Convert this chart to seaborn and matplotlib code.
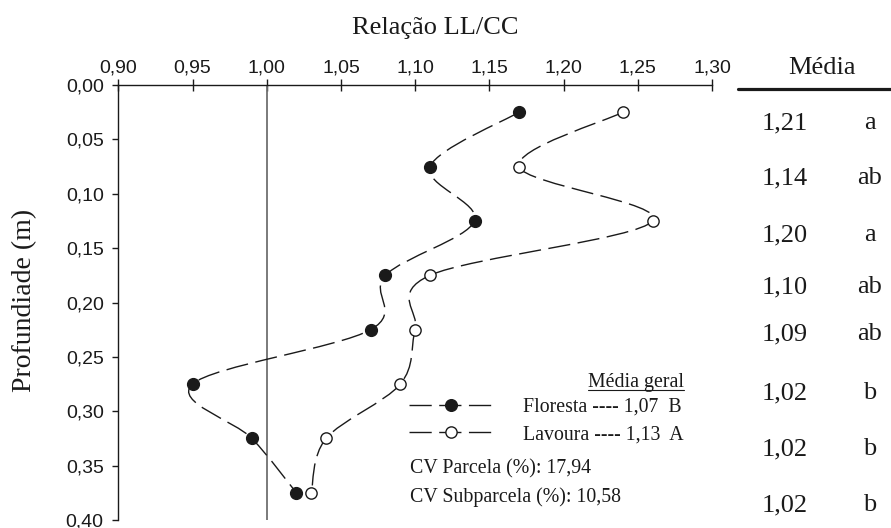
import numpy as np
import pandas as pd
import matplotlib
matplotlib.use("Agg")
import matplotlib.pyplot as plt
import seaborn as sns
from matplotlib.path import Path
from matplotlib.patches import PathPatch
from matplotlib.lines import Line2D
from matplotlib.font_manager import FontProperties

# ---------------- data ----------------
profundidade = [0.025, 0.075, 0.125, 0.175, 0.225, 0.275, 0.325, 0.375]
floresta = [1.17, 1.11, 1.14, 1.08, 1.07, 0.95, 0.99, 1.02]
lavoura = [1.24, 1.17, 1.26, 1.11, 1.10, 1.09, 1.04, 1.03]
media_valores = ["1,21", "1,14", "1,20", "1,10", "1,09", "1,02", "1,02", "1,02"]
media_letras = ["a", "ab", "a", "ab", "ab", "b", "b", "b"]
x_ticks = [0.90, 0.95, 1.00, 1.05, 1.10, 1.15, 1.20, 1.25, 1.30]
y_ticks = [0.00, 0.05, 0.10, 0.15, 0.20, 0.25, 0.30, 0.35, 0.40]
legenda = ["Floresta ---- 1,07  B", "Lavoura ---- 1,13  A"]
cv_textos = ["CV Parcela (%): 17,94", "CV Subparcela (%): 10,58"]
titulo_x = "Relação LL/CC"
titulo_y = "Profundiade (m)"
titulo_media = "Média"
titulo_legenda = "Média geral"

# ---------------- layout ----------------
W, H = 891, 528
SERIF = "Liberation Serif"
SANS = "Liberation Sans"
INK = "#1a1a1a"

sns.set_theme(style="white")
plt.rcParams["font.family"] = [SERIF, "DejaVu Sans"]

fig = plt.figure(figsize=(W / 100, H / 100), dpi=100)
x0, x1 = 118.3, 712.0
y0, y1 = 85.0, 520.0
ax = fig.add_axes([x0 / W, 1 - y1 / H, (x1 - x0) / W, (y1 - y0) / H])
ax.set_facecolor("none")

ax.set_xlim(0.90, 1.30)
ax.set_ylim(0.40, 0.00)

# reference line at 1.00
ax.axvline(1.00, color="#707070", lw=1.3, zorder=1)


def catmull_rom_path(xs, ys):
    pts = np.column_stack([xs, ys]).astype(float)
    n = len(pts)
    verts = [pts[0]]
    codes = [Path.MOVETO]
    for i in range(n - 1):
        p0 = pts[i - 1] if i > 0 else pts[i]
        p1 = pts[i]
        p2 = pts[i + 1]
        p3 = pts[i + 2] if i + 2 < n else pts[i + 1]
        c1 = p1 + (p2 - p0) / 6.0
        c2 = p2 - (p3 - p1) / 6.0
        verts += [c1, c2, p2]
        codes += [Path.CURVE4] * 3
    return Path(np.array(verts), codes)


dash = (0, (16, 5.4))
for serie in (floresta, lavoura):
    patch = PathPatch(catmull_rom_path(serie, profundidade), facecolor="none",
                      edgecolor=INK, lw=1.0, linestyle=dash,
                      transform=ax.transData, zorder=2)
    ax.add_patch(patch)

df = pd.DataFrame({
    "prof": profundidade * 2,
    "valor": floresta + lavoura,
    "sistema": ["Floresta"] * len(floresta) + ["Lavoura"] * len(lavoura),
})
sns.scatterplot(data=df[df.sistema == "Floresta"], x="valor", y="prof", ax=ax,
                color=INK, edgecolor=INK, s=72, linewidth=1, zorder=4, legend=False)
sns.scatterplot(data=df[df.sistema == "Lavoura"], x="valor", y="prof", ax=ax,
                color="white", edgecolor=INK, s=66, linewidth=1, zorder=4, legend=False)

# axes styling
ax.xaxis.tick_top()
ax.set_xticks(x_ticks)
ax.set_xticklabels([f"{v:.2f}".replace(".", ",") for v in x_ticks])
ax.set_yticks(y_ticks)
ax.set_yticklabels([f"{v:.2f}".replace(".", ",") for v in y_ticks])
ax.tick_params(axis="x", direction="inout", length=8, width=1, pad=2,
               top=True, bottom=False, labeltop=True, labelbottom=False,
               colors=INK, labelsize=14)
ax.tick_params(axis="y", direction="out", length=4.5, width=1, pad=6,
               left=True, right=False, colors=INK, labelsize=14)
for lab in ax.get_xticklabels() + ax.get_yticklabels():
    lab.set_fontfamily(SANS)
for side in ("bottom", "right"):
    ax.spines[side].set_visible(False)
for side in ("top", "left"):
    ax.spines[side].set_color(INK)
    ax.spines[side].set_linewidth(1.0)
ax.set_xlabel("")
ax.set_ylabel("")

# titles
fig.text(435.3 / W, 1 - 34 / H, titulo_x, ha="center", va="baseline",
         fontsize=19, color=INK, family=SERIF)
fig.text(25 / W, 1 - 300 / H, titulo_y, ha="center", va="center",
         rotation=90, fontsize=20, color=INK, family=SERIF)

# right column
fig.text(821.7 / W, 1 - 74 / H, titulo_media, ha="center", va="baseline",
         fontsize=19, color=INK, family=SERIF)
fig.add_artist(Line2D([738 / W, 1.0], [1 - 88.5 / H] * 2, color=INK, lw=2.3))
col_y = [123, 178, 235, 287, 334, 393, 449, 505]
for yv, val, let in zip(col_y, media_valores, media_letras):
    fig.text(785 / W, 1 - yv / H, val, ha="center", va="center",
             fontsize=19, color=INK, family=SERIF)
    fig.text(870 / W, 1 - yv / H, let, ha="center", va="center",
             fontsize=19, color=INK, family=SERIF)

# legend
handles = [
    Line2D([], [], color=INK, lw=1.0, linestyle=dash, marker="o", ms=8.4,
           mfc=INK, mec=INK),
    Line2D([], [], color=INK, lw=1.0, linestyle=dash, marker="o", ms=8.1,
           mfc="white", mec=INK),
]
leg = ax.legend(handles, legenda, loc="upper left",
                bbox_to_anchor=(409 / W, 1 - 398 / H), bbox_transform=fig.transFigure,
                frameon=False, borderpad=0, borderaxespad=0, handlelength=4.2,
                handletextpad=1.55, labelspacing=0.42,
                prop=FontProperties(family=SERIF, size=14.3))
for t in leg.get_texts():
    t.set_color(INK)

t_leg = fig.text(684 / W, 1 - 386.7 / H, titulo_legenda, ha="right", va="baseline",
                 fontsize=14.3, color=INK, family=SERIF)
fig.text(410 / W, 1 - 473.3 / H, cv_textos[0], ha="left", va="baseline",
         fontsize=14.3, color=INK, family=SERIF)
fig.text(410 / W, 1 - 501.7 / H, cv_textos[1], ha="left", va="baseline",
         fontsize=14.3, color=INK, family=SERIF)

fig.canvas.draw()
bb = t_leg.get_window_extent()
fig.add_artist(Line2D([bb.x0 / W, bb.x1 / W], [(bb.y0 + 1.5) / H] * 2,
                      color=INK, lw=0.8))

fig.savefig("out.png", dpi=100)
